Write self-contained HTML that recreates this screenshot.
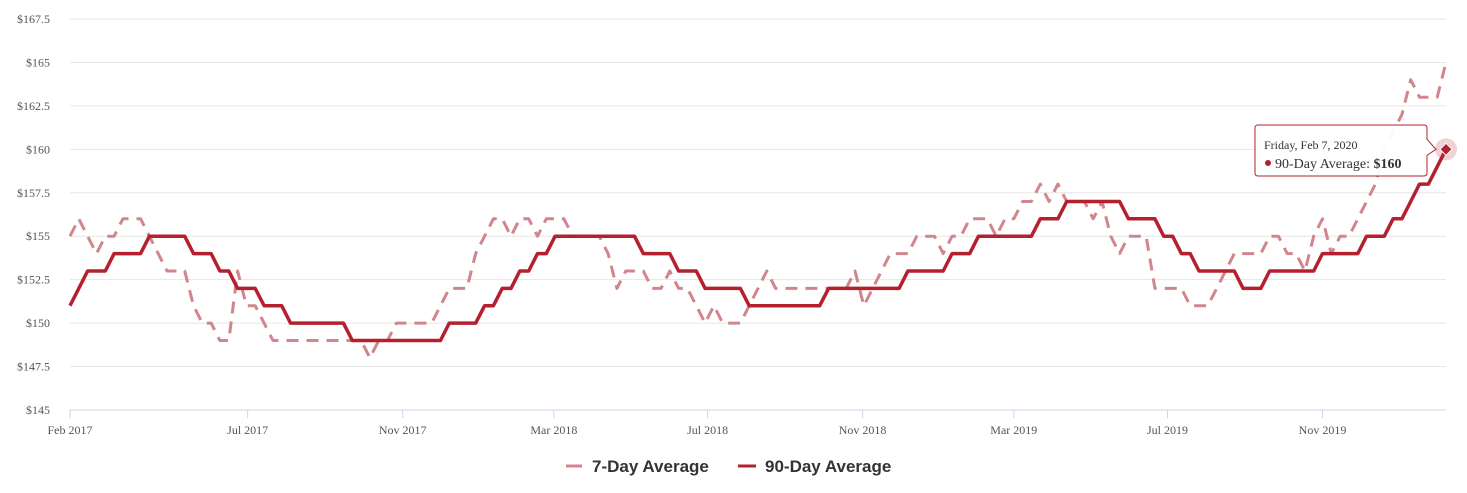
<!DOCTYPE html>
<html><head><meta charset="utf-8"><style>
body{margin:0;background:#fff;width:1467px;height:493px;overflow:hidden}
svg{display:block}
.yl,.xl{font-family:"Liberation Serif",serif;font-size:12px;fill:#555}
.lg{font-family:"Liberation Sans",sans-serif;font-size:17px;font-weight:bold;fill:#333}
</style></head><body>
<svg id="chart" width="1467" height="493" viewBox="0 0 1467 493" xmlns="http://www.w3.org/2000/svg">
<g id="grid"></g>
<g id="yaxis"></g>
<g id="xaxis"></g>
<g id="series"></g>
<g id="tooltip"></g>
<g>
<g>
<line x1="566" y1="466" x2="582" y2="466" stroke="#d1868c" stroke-width="3"/>
<text class="lg" x="592" y="472">7-Day Average</text></g>
<g>
<line x1="738" y1="466" x2="756" y2="466" stroke="#b5202e" stroke-width="3"/>
<text class="lg" x="765" y="472">90-Day Average</text></g>
</g>
</svg>
<script>
const startDate = "2017-02-10";
const yTicks = [145,147.5,150,152.5,155,157.5,160,162.5,165,167.5];
const xTickLabels = ["Feb 2017","Jul 2017","Nov 2017","Mar 2018","Jul 2018","Nov 2018","Mar 2019","Jul 2019","Nov 2019"];
const xTickDates = ["2017-02-10","2017-07-01","2017-11-01","2018-03-01","2018-07-01","2018-11-01","2019-03-01","2019-07-01","2019-11-01"];
const avg7 = [155,156,155,154,155,155,156,156,156,155,154,153,153,153,151,150,150,149,149,153,151,151,150,149,149,149,149,149,149,149,149,149,149,149,148,149,149,150,150,150,150,150,151,152,152,152,154,155,156,156,155,156,156,155,156,156,156,155,155,155,155,154,152,153,153,153,152,152,153,152,152,151,150,151,150,150,150,151,152,153,152,152,152,152,152,152,152,152,152,153,151,152,153,154,154,154,155,155,155,154,155,155,156,156,156,155,156,156,157,157,158,157,158,157,157,157,156,157,155,154,155,155,155,152,152,152,152,151,151,151,152,153,154,154,154,154,155,155,154,154,153,155,156,154,155,155,156,157,158,160,161,162,164,163,163,163,165];
const avg90 = [151,152,153,153,153,154,154,154,154,155,155,155,155,155,154,154,154,153,153,152,152,152,151,151,151,150,150,150,150,150,150,150,149,149,149,149,149,149,149,149,149,149,149,150,150,150,150,151,151,152,152,153,153,154,154,155,155,155,155,155,155,155,155,155,155,154,154,154,154,153,153,153,152,152,152,152,152,151,151,151,151,151,151,151,151,151,152,152,152,152,152,152,152,152,152,153,153,153,153,153,154,154,154,155,155,155,155,155,155,155,156,156,156,157,157,157,157,157,157,157,156,156,156,156,155,155,154,154,153,153,153,153,153,152,152,152,153,153,153,153,153,153,154,154,154,154,154,155,155,155,156,156,157,158,158,159,160];

const NS="http://www.w3.org/2000/svg";
const X0=70,X1=1446,Y0=410,Y1=19;
const t0=new Date(startDate).getTime();
const tEnd=t0+(avg90.length-1)*7*864e5;
const xs=t=>X0+(t-t0)/(tEnd-t0)*(X1-X0);
const ys=v=>Y0-(v-145)/(167.5-145)*(Y0-Y1);
const wx=i=>xs(t0+i*7*864e5);
function mk(tag,attrs,parent){const e=document.createElementNS(NS,tag);for(const k in attrs)e.setAttribute(k,attrs[k]);parent.appendChild(e);return e;}
const grid=document.getElementById('grid'),ya=document.getElementById('yaxis'),xa=document.getElementById('xaxis'),se=document.getElementById('series'),tt=document.getElementById('tooltip');
yTicks.forEach(v=>{
  const l=mk('line',{x1:X0,x2:X1,y1:ys(v),y2:ys(v),stroke:v===145?'#ccd6eb':'#e6e6e6','stroke-width':1},grid);
  
  
  const t=mk('text',{x:50,y:ys(v)+4,'text-anchor':'end',class:'yl'},ya);
  t.textContent='$'+v;
  
  
});
xTickDates.forEach((d,i)=>{
  const x=xs(new Date(d).getTime());
  const tk=mk('line',{x1:x,x2:x,y1:Y0,y2:Y0+8,stroke:'#ccd6eb'},xa);
  
  
  const t=mk('text',{x:x,y:Y0+24,'text-anchor':'middle',class:'xl'},xa);
  t.textContent=xTickLabels[i];
  
  
});
const pts=a=>a.map((v,i)=>wx(i).toFixed(1)+','+ys(v).toFixed(1)).join(' ');
const p7=mk('polyline',{points:pts(avg7),fill:'none',stroke:'#d1868c','stroke-width':3,'stroke-dasharray':'12,8','stroke-linejoin':'round'},se);


const p90=mk('polyline',{points:pts(avg90),fill:'none',stroke:'#b5202e','stroke-width':3.5,'stroke-linejoin':'round'},se);


// hovered point
const li=avg90.length-1,hx=wx(li),hy=ys(avg90[li]);
const halo=mk('circle',{cx:hx,cy:hy,r:11,fill:'#b5202e','fill-opacity':0.2},tt);


const mk2=mk('path',{d:`M${hx} ${hy-6}L${hx+6} ${hy}L${hx} ${hy+6}L${hx-6} ${hy}Z`,fill:'#b5202e',stroke:'#fff','stroke-width':1},tt);


const bx=1255,by=125,bw=172,bh=51;
const box=mk('path',{d:`M${bx+3} ${by}H${bx+bw-3}Q${bx+bw} ${by} ${bx+bw} ${by+3}V${hy-by+by-10}L${hx-10} ${hy}L${bx+bw} ${hy+6}V${by+bh-3}Q${bx+bw} ${by+bh} ${bx+bw-3} ${by+bh}H${bx+3}Q${bx} ${by+bh} ${bx} ${by+bh-3}V${by+3}Q${bx} ${by} ${bx+3} ${by}Z`,fill:'#fff','fill-opacity':0.95,stroke:'#b5202e','stroke-width':1},tt);


const t1=mk('text',{x:1264,y:149,style:'font-family:"Liberation Serif",serif;font-size:12px;fill:#333'},tt);
t1.textContent='Friday, Feb 7, 2020';


const dot=mk('circle',{cx:1268,cy:163,r:3,fill:'#b5202e'},tt);


const t2=mk('text',{x:1275,y:168,style:'font-family:"Liberation Serif",serif;font-size:14px;fill:#333'},tt);
t2.innerHTML='90-Day Average: <tspan font-weight="bold">$'+avg90[li]+'</tspan>';


</script>
</body></html>
